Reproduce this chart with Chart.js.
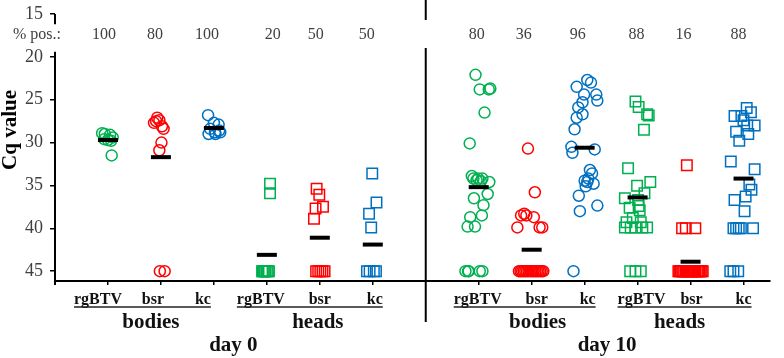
<!DOCTYPE html>
<html>
<head>
<meta charset="utf-8">
<script src="https://cdn.jsdelivr.net/npm/chart.js@4.4.0/dist/chart.umd.min.js"></script>
<style>
  html, body { margin: 0; padding: 0; background: #fff; }
</style>
</head>
<body>
<canvas id="cqChart" width="784" height="358"></canvas>
<script>
// ---- values ----
// 12 groups: day 0 bodies / heads, day 10 bodies / heads; slot 6 is the gap at the day divider
const groupSlots = [0, 1, 2, 3, 4, 5, 7, 8, 9, 10, 11, 12];
const targets = ['rgBTV', 'bsr', 'kc', 'rgBTV', 'bsr', 'kc', 'rgBTV', 'bsr', 'kc', 'rgBTV', 'bsr', 'kc'];
const tissues = ['bodies', 'heads', 'bodies', 'heads'];
const days = ['day 0', 'day 10'];
const pctPositive = [100, 80, 100, 20, 50, 50, 80, 36, 96, 88, 16, 88];
const meanCq = [29.7, 31.7, 28.3, 43.1, 41.1, 41.9, 35.2, 42.5, 30.6, 36.4, 43.9, 34.2];
const yTicks = [15, 20, 25, 30, 35, 40, 45];

// Cq per sample (45 = not detected) and the horizontal scatter of each mark, in slot units
const cqD0BodRg = [28.9, 29.0, 29.1, 29.4, 29.6, 29.7, 29.8, 31.5];
const jitD0BodRg = [-0.11, -0.06, 0.04, 0.09, -0.07, 0, 0.06, 0.07];
const cqD0BodBsr = [27.1, 27.4, 27.5, 27.7, 28.1, 28.4, 30.0, 30.9, 45, 45];
const jitD0BodBsr = [-0.07, -0.03, -0.09, -0.13, 0.02, 0.05, 0.01, -0.03, -0.02, 0.07];
const cqD0BodKc = [26.8, 27.7, 27.9, 28.4, 28.8, 28.8, 29.0, 29.0, 28.6];
const jitD0BodKc = [-0.11, 0, 0.09, -0.07, 0.02, 0.12, -0.1, 0.03, 0.1];
const cqD0HeadRg = [34.8, 35.9, 45, 45, 45, 45, 45, 45, 45, 45];
const jitD0HeadRg = [0.06, 0.06, -0.09, -0.08, -0.06, -0.04, -0.03, 0, 0.02, 0.04];
const cqD0HeadBsr = [35.4, 36.1, 37.5, 37.7, 38.9, 45, 45, 45, 45, 45];
const jitD0HeadBsr = [-0.06, -0.01, 0.06, -0.08, -0.11, -0.07, -0.03, 0.01, 0.05, 0.09];
const cqD0HeadKc = [33.6, 37.0, 38.3, 39.9, 45, 45, 45, 45];
const jitD0HeadKc = [-0.01, 0.07, -0.07, -0.03, -0.11, -0.06, 0.02, 0.06];

const cqD10BodRg = [22.1, 23.8, 23.8, 23.7, 26.5, 30.1, 33.9, 34.2, 34.2, 34.2, 34.4, 34.6, 34.5, 36.0, 36.5, 37.3, 38.5, 38.7, 39.8, 39.8, 45, 45, 45, 45, 45];
const jitD10BodRg = [-0.06, 0.02, 0.19, 0.22, 0.11, -0.17, -0.13, 0.07, -0.1, -0.01, -0.04, 0.2, 0.04, 0.17, -0.09, 0.09, 0.06, -0.16, -0.21, -0.07, -0.25, -0.2, -0.19, 0.02, 0.07];
const cqD10BodBsr = [30.7, 35.8, 38.5, 38.3, 38.5, 38.7, 39.9, 39.9, 39.9, 45, 45, 45, 45, 45, 45, 45, 45, 45, 45, 45, 45, 45, 45, 45, 45];
const jitD10BodBsr = [-0.07, 0.06, -0.2, -0.14, -0.1, 0.04, -0.27, 0.15, 0.2, -0.24, -0.21, -0.18, -0.15, -0.12, -0.09, -0.06, -0.02, 0.01, 0.04, 0.07, 0.1, 0.13, 0.16, 0.19, 0.22];
const cqD10BodKc = [22.7, 23.0, 23.5, 24.4, 24.4, 25.1, 25.3, 25.9, 26.7, 27.1, 28.45, 30.5, 31.2, 30.8, 33.2, 33.6, 34.45, 34.6, 34.8, 35.1, 36.2, 38.0, 37.35, 34.2, 45];
const jitD10BodKc = [0.05, 0.12, -0.15, -0.01, 0.22, 0.24, -0.04, -0.12, -0.04, -0.15, -0.19, -0.25, -0.23, 0.19, 0.1, 0.14, 0, 0.05, 0.17, 0.02, -0.11, -0.09, 0.24, 0.07, -0.21];
const cqD10HeadRg = [25.2, 25.85, 26.7, 26.85, 28.5, 33.0, 34.6, 35.05, 35.9, 36.5, 36.7, 37.4, 37.6, 37.9, 38.8, 39.3, 39.3, 39.9, 39.9, 39.9, 39.9, 39.9, 45, 45, 45];
const jitD10HeadRg = [-0.04, 0.02, 0.18, 0.21, 0.12, -0.18, 0.24, -0.01, 0.13, -0.24, 0.01, 0.02, -0.15, 0.04, -0.09, -0.21, 0.06, -0.24, -0.13, -0.04, 0.09, 0.18, -0.14, -0.04, 0.06];
const cqD10HeadBsr = [32.65, 40, 40, 40, 45, 45, 45, 45, 45, 45, 45, 45, 45, 45, 45, 45, 45, 45, 45, 45, 45, 45, 45, 45, 45];
const jitD10HeadBsr = [-0.07, -0.16, -0.09, 0.09, -0.23, -0.21, -0.19, -0.16, -0.14, -0.12, -0.09, -0.07, -0.05, -0.02, 0, 0.02, 0.05, 0.07, 0.09, 0.12, 0.14, 0.16, 0.19, 0.21, 0.23];
const cqD10HeadKc = [25.96, 26.46, 26.9, 26.9, 27.4, 28.0, 28.0, 28.75, 29.0, 29.8, 32.2, 33.1, 34.9, 35.5, 36.3, 36.7, 38.0, 40, 40, 40, 40, 40, 45, 45, 45];
const jitD10HeadKc = [0.06, 0.14, -0.17, -0.04, 0, 0.21, 0.07, -0.14, 0.09, -0.08, -0.24, 0.21, 0.11, 0.15, 0.04, -0.17, 0.02, -0.19, -0.14, -0.09, -0.05, 0.18, -0.25, -0.19, -0.1];

const groupValues = [cqD0BodRg, cqD0BodBsr, cqD0BodKc, cqD0HeadRg, cqD0HeadBsr, cqD0HeadKc,
  cqD10BodRg, cqD10BodBsr, cqD10BodKc, cqD10HeadRg, cqD10HeadBsr, cqD10HeadKc];
const groupJitter = [jitD0BodRg, jitD0BodBsr, jitD0BodKc, jitD0HeadRg, jitD0HeadBsr, jitD0HeadKc,
  jitD10BodRg, jitD10BodBsr, jitD10BodKc, jitD10HeadRg, jitD10HeadBsr, jitD10HeadKc];

const targetColors = { rgBTV: '#00B050', bsr: '#FF0000', kc: '#0070C0' };
const SERIF = '"Liberation Serif", "Times New Roman", serif';

// mean bars first so they end up drawn on top
const datasets = [{
  label: 'mean',
  data: groupSlots.map((s, i) => ({ x: s, y: meanCq[i] })),
  pointStyle: 'line',
  pointRadius: 10,
  borderColor: '#000',
  borderWidth: 4
}];

groupValues.forEach((vals, i) => {
  const isHead = i % 6 >= 3;
  datasets.push({
    label: targets[i],
    data: vals.map((v, k) => ({ x: groupSlots[i] + groupJitter[i][k], y: v })),
    pointStyle: isHead ? 'rect' : 'circle',
    pointRadius: isHead ? 7.4 : 5.5,
    borderColor: targetColors[targets[i]],
    backgroundColor: 'rgba(0,0,0,0)',
    borderWidth: 1.5
  });
});

function strokeLine(ctx, x1, y1, x2, y2) {
  ctx.beginPath();
  ctx.moveTo(x1, y1);
  ctx.lineTo(x2, y2);
  ctx.stroke();
}

// label shifts (px) so the text sits where the original put it
const catShift = [-10, -8, -11, -6, 0, 2, -1, 5, 3, 4, 1, 0];
const pctShift = [-4, -6, -7, 6, -4, -6, -2, -8, -7, -1, -7, -5];
const tissueShift = [-10, -2, 6, -11];
const dayShift = [-7, -4];

const overlay = {
  id: 'overlay',
  afterDraw(chart) {
    const { ctx, chartArea, scales: { x, y } } = chart;
    ctx.save();
    ctx.strokeStyle = '#000';
    ctx.lineWidth = 2;

    // broken y axis
    const ax = chartArea.left;
    strokeLine(ctx, ax, y.getPixelForValue(15), ax, y.getPixelForValue(16.2));
    strokeLine(ctx, ax, y.getPixelForValue(19.4), ax, chartArea.bottom + 4);

    // y tick labels, placed through the y scale
    ctx.fillStyle = '#404040';
    ctx.font = '18px ' + SERIF;
    ctx.textAlign = 'right';
    ctx.textBaseline = 'middle';
    y.ticks.forEach(t => {
      ctx.fillText(String(t.value), ax - 12, y.getPixelForValue(t.value));
    });

    // day divider
    const dx = x.getPixelForValue(6);
    strokeLine(ctx, dx, 0, dx, 20);
    strokeLine(ctx, dx, 48, dx, 322);

    // y title
    ctx.fillStyle = '#000';
    ctx.font = 'bold 21px ' + SERIF;
    ctx.textAlign = 'center';
    ctx.save();
    ctx.translate(11, 130);
    ctx.rotate(-Math.PI / 2);
    ctx.fillText('Cq value', 0, 0);
    ctx.restore();

    // % positive row
    ctx.fillStyle = '#404040';
    ctx.font = '16px ' + SERIF;
    ctx.textAlign = 'left';
    ctx.fillText('% pos.:', 13, 35);
    ctx.textAlign = 'center';
    pctPositive.forEach((p, i) => {
      ctx.fillText(String(p), x.getPixelForValue(groupSlots[i]) + pctShift[i], 35);
    });

    // category labels, underlined per trio
    ctx.fillStyle = '#111';
    ctx.strokeStyle = '#222';
    ctx.lineWidth = 1.5;
    ctx.font = 'bold 16px ' + SERIF;
    for (let t = 0; t < 4; t++) {
      let left = Infinity, right = -Infinity;
      for (let k = 0; k < 3; k++) {
        const i = t * 3 + k;
        const cx = x.getPixelForValue(groupSlots[i]) + catShift[i];
        const w = ctx.measureText(targets[i]).width;
        ctx.fillText(targets[i], cx, 300);
        left = Math.min(left, cx - w / 2);
        right = Math.max(right, cx + w / 2);
      }
      strokeLine(ctx, left, 307, right, 307);
    }

    // tissue and day labels
    ctx.font = 'bold 21px ' + SERIF;
    tissues.forEach((name, t) => {
      ctx.fillText(name, x.getPixelForValue(groupSlots[t * 3 + 1]) + tissueShift[t], 323);
    });
    days.forEach((name, d) => {
      const mid = (groupSlots[d * 6 + 2] + groupSlots[d * 6 + 3]) / 2;
      ctx.fillText(name, x.getPixelForValue(mid) + dayShift[d], 346);
    });
    ctx.restore();
  }
};

new Chart(document.getElementById('cqChart'), {
  type: 'scatter',
  data: { datasets },
  options: {
    responsive: false,
    animation: false,
    layout: { padding: { top: 9, right: 1, left: 0, bottom: 0 } },
    plugins: { legend: { display: false }, tooltip: { enabled: false } },
    scales: {
      x: {
        type: 'linear',
        min: -1,
        max: 12.5,
        afterBuildTicks: s => { s.ticks = groupSlots.map(v => ({ value: v })); },
        afterFit: s => { s.height = 77; },
        grid: { drawOnChartArea: false, tickLength: 4, color: '#000', lineWidth: 1.5 },
        border: { display: true, color: '#000', width: 2 },
        ticks: { display: false }
      },
      y: {
        type: 'linear',
        reverse: true,
        min: 15,
        max: 46.15,
        afterBuildTicks: s => { s.ticks = yTicks.map(v => ({ value: v })); },
        afterFit: s => { s.width = 55; },
        grid: { drawOnChartArea: false, tickLength: 5, color: '#000', lineWidth: 1.5 },
        border: { display: false },
        ticks: { display: false }
      }
    }
  },
  plugins: [overlay]
});
</script>
</body>
</html>
